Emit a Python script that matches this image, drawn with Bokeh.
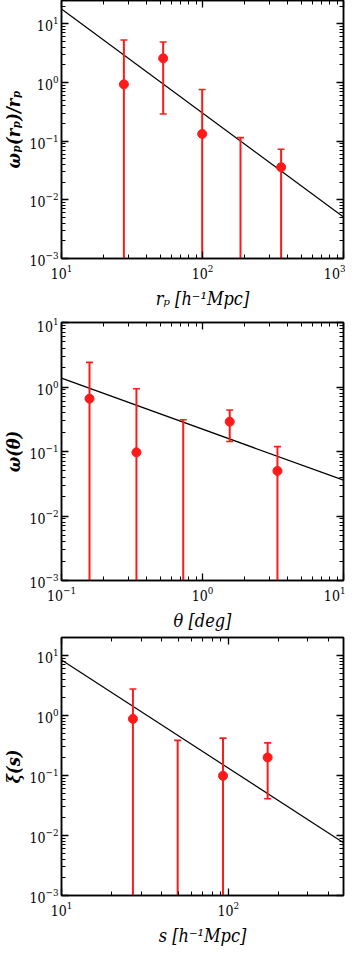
import math
from bokeh.plotting import figure
from bokeh.models import LinearAxis, Range1d, FixedTicker, CustomJSTickFormatter
from bokeh.layouts import column
from bokeh.embed import file_html
from bokeh.resources import INLINE

# ---------------- data ----------------
# Panel 1: projected correlation function w_p(r_p)/r_p
p1_x = [27.7, 52.6, 99.5, 186.0, 361.0]
p1_y = [0.93, 2.58, 0.133, float("nan"), 0.036]
p1_hi = [5.3, 4.9, 0.76, 0.115, 0.073]
p1_lo = [None, 0.29, None, None, None]          # None: error bar extends below the plot
p1_fit_x = [10.0, 1000.0]
p1_fit_y = [17.9, 0.0051]

# Panel 2: angular correlation function w(theta)
p2_x = [0.158, 0.34, 0.73, 1.56, 3.4]
p2_y = [0.66, 0.097, float("nan"), 0.29, 0.050]
p2_hi = [2.41, 0.94, 0.31, 0.44, 0.119]
p2_lo = [None, None, None, 0.143, None]
p2_fit_x = [0.1, 10.0]
p2_fit_y = [1.37, 0.036]

# Panel 3: redshift-space correlation function xi(s)
p3_x = [26.8, 49.7, 92.9, 172.0]
p3_y = [0.88, float("nan"), 0.099, 0.20]
p3_hi = [2.77, 0.385, 0.42, 0.35]
p3_lo = [None, None, None, 0.041]
p3_fit_x = [10.0, 490.0]
p3_fit_y = [8.4, 0.0076]

# tick values
p1_xticks = [10, 100, 1000]
p2_xticks = [0.1, 1, 10]
p3_xticks = [10, 100]
y_ticks_1 = [0.001, 0.01, 0.1, 1, 10]

RED = "#ff1a1a"
FONT = "DejaVu Serif Condensed"


def minors(lo, hi):
    out = []
    d0 = math.floor(math.log10(lo)) - 1
    d1 = math.ceil(math.log10(hi)) + 1
    for d in range(d0, d1):
        for m in range(2, 10):
            v = m * 10 ** d
            if lo < v < hi:
                out.append(v)
    return out


def style_axis(ax, labels=True):
    ax.major_tick_in = 7
    ax.major_tick_out = 0
    ax.minor_tick_in = 4
    ax.minor_tick_out = 0
    ax.major_tick_line_color = "black"
    ax.minor_tick_line_color = "black"
    ax.major_tick_line_width = 1.3
    ax.minor_tick_line_width = 1.0
    ax.axis_line_color = "black"
    ax.axis_line_width = 1.5
    if labels:
        ax.major_label_text_font = FONT
        ax.major_label_text_font_size = "14px"
        ax.major_label_text_color = "black"
        ax.major_label_standoff = 5
        ax.axis_label_text_font = FONT
        ax.axis_label_text_color = "black"
    else:
        ax.formatter = CustomJSTickFormatter(code="return ''")
        ax.major_label_text_font_size = "1px"
        ax.major_label_standoff = 0


def panel(xs, ys, his, los, fx, fy, xr, yr, xt, yt, xlabel, ylabel, top, bottom):
    p = figure(x_axis_type="log", y_axis_type="log",
               x_range=Range1d(*xr), y_range=Range1d(*yr),
               frame_width=282, frame_height=258,
               min_border_left=53, min_border_right=2,
               min_border_top=top, min_border_bottom=bottom,
               output_backend="svg", toolbar_location=None,
               background_fill_color="white", border_fill_color="white",
               outline_line_color="black", outline_line_width=1.5)
    p.xgrid.visible = False
    p.ygrid.visible = False

    p.xaxis.ticker = FixedTicker(ticks=xt, minor_ticks=minors(*xr))
    p.yaxis.ticker = FixedTicker(ticks=yt, minor_ticks=minors(*yr))
    for ax in p.xaxis + p.yaxis:
        style_axis(ax)
    p.yaxis.major_label_standoff = 3
    p.xaxis.axis_label = xlabel
    p.xaxis.axis_label_text_font_size = "18px"
    p.xaxis.axis_label_text_font_style = "italic"
    p.xaxis.axis_label_standoff = 6
    p.yaxis.axis_label = ylabel
    p.yaxis.axis_label_text_font_size = "18px"
    p.yaxis.axis_label_text_font_style = "bold italic"
    p.yaxis.axis_label_standoff = 2

    ra = LinearAxis(ticker=FixedTicker(ticks=yt, minor_ticks=minors(*yr)))
    style_axis(ra, labels=False)
    p.add_layout(ra, "right")
    ta = LinearAxis(ticker=FixedTicker(ticks=xt, minor_ticks=minors(*xr)))
    style_axis(ta, labels=False)
    p.add_layout(ta, "above")

    # fit line
    p.line(fx, fy, line_color="black", line_width=1.2)

    # error bars
    floor = yr[0] / 10.0
    lo_draw = [l if l is not None else floor for l in los]
    p.segment(x0=xs, y0=lo_draw, x1=xs, y1=his, line_color=RED, line_width=2)
    p.scatter(xs, his, marker="dash", size=7, line_color=RED, line_width=1.6)
    cx = [x for x, l in zip(xs, los) if l is not None]
    cy = [l for l in los if l is not None]
    if cx:
        p.scatter(cx, cy, marker="dash", size=7, line_color=RED, line_width=1.6)
    # points
    px = [x for x, y in zip(xs, ys) if not math.isnan(y)]
    py = [y for y in ys if not math.isnan(y)]
    p.scatter(px, py, marker="circle", size=9, fill_color=RED, line_color=RED)
    return p


f1 = panel(p1_x, p1_y, p1_hi, p1_lo, p1_fit_x, p1_fit_y, (10, 1000), (0.001, 25),
           p1_xticks, y_ticks_1, "rₚ [h⁻¹Mpc]", "ωₚ(rₚ)/rₚ", 0, 59)
f2 = panel(p2_x, p2_y, p2_hi, p2_lo, p2_fit_x, p2_fit_y, (0.1, 10), (0.001, 10),
           p2_xticks, y_ticks_1, "θ [deg]", "ω(θ)", 5, 52)
f3 = panel(p3_x, p3_y, p3_hi, p3_lo, p3_fit_x, p3_fit_y, (10, 490), (0.001, 20),
           p3_xticks, y_ticks_1, "s [h⁻¹Mpc]", "ξ(s)", 4, 52)

layout = column(f1, f2, f3, spacing=0)
open("out.html", "w").write(file_html(layout, INLINE))
